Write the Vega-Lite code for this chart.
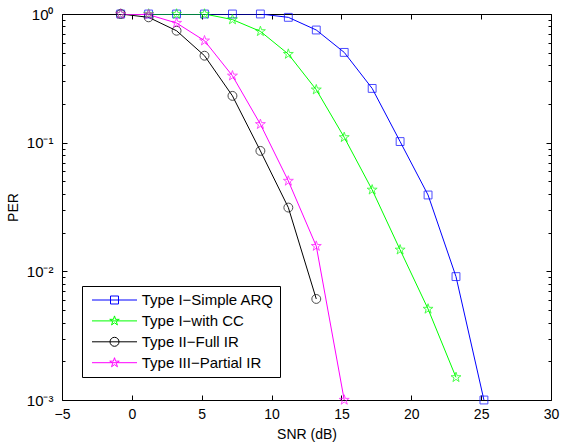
{
  "$schema": "https://vega.github.io/schema/vega-lite/v6.json",
  "width": 489,
  "height": 386,
  "autosize": {"type": "none"},
  "padding": {"left": 62, "top": 14, "right": 10, "bottom": 43},
  "config": {
    "view": {"stroke": "#000000", "strokeWidth": 1},
    "font": "Liberation Sans",
    "axis": {"domain": false, "grid": false, "tickColor": "#000000", "tickWidth": 1, "labelColor": "#000000", "titleColor": "#000000", "labelFont": "Liberation Sans", "titleFont": "Liberation Sans", "titleFontWeight": "normal"},
    "legend": {
      "orient": "none", "legendX": 20, "legendY": 272, "title": null,
      "padding": 6, "strokeColor": "#000000", "fillColor": "#ffffff", "cornerRadius": 0,
      "symbolSize": 225, "symbolStrokeWidth": 1, "rowPadding": 4.9,
      "symbolOffset": 18.5, "labelOffset": 19.2, "labelFont": "Liberation Sans", "labelFontSize": 15, "labelColor": "#000000", "labelLimit": 300
    }
  },
  "data": {
    "values": [
      {"snr": -0.8, "per": 1, "series": "Type I−Simple ARQ"},
      {"snr": 1.2, "per": 1, "series": "Type I−Simple ARQ"},
      {"snr": 3.2, "per": 1, "series": "Type I−Simple ARQ"},
      {"snr": 5.2, "per": 1, "series": "Type I−Simple ARQ"},
      {"snr": 7.2, "per": 1, "series": "Type I−Simple ARQ"},
      {"snr": 9.2, "per": 1, "series": "Type I−Simple ARQ"},
      {"snr": 11.2, "per": 0.942, "series": "Type I−Simple ARQ"},
      {"snr": 13.2, "per": 0.751, "series": "Type I−Simple ARQ"},
      {"snr": 15.2, "per": 0.503, "series": "Type I−Simple ARQ"},
      {"snr": 17.2, "per": 0.264, "series": "Type I−Simple ARQ"},
      {"snr": 19.2, "per": 0.102, "series": "Type I−Simple ARQ"},
      {"snr": 21.2, "per": 0.0392, "series": "Type I−Simple ARQ"},
      {"snr": 23.2, "per": 0.0091, "series": "Type I−Simple ARQ"},
      {"snr": 25.2, "per": 0.001, "series": "Type I−Simple ARQ"},
      {"snr": -0.8, "per": 1, "series": "Type I−with CC"},
      {"snr": 1.2, "per": 1, "series": "Type I−with CC"},
      {"snr": 3.2, "per": 1, "series": "Type I−with CC"},
      {"snr": 5.2, "per": 1, "series": "Type I−with CC"},
      {"snr": 7.2, "per": 0.905, "series": "Type I−with CC"},
      {"snr": 9.2, "per": 0.733, "series": "Type I−with CC"},
      {"snr": 11.2, "per": 0.488, "series": "Type I−with CC"},
      {"snr": 13.2, "per": 0.258, "series": "Type I−with CC"},
      {"snr": 15.2, "per": 0.11, "series": "Type I−with CC"},
      {"snr": 17.2, "per": 0.043, "series": "Type I−with CC"},
      {"snr": 19.2, "per": 0.0147, "series": "Type I−with CC"},
      {"snr": 21.2, "per": 0.0051, "series": "Type I−with CC"},
      {"snr": 23.2, "per": 0.0015, "series": "Type I−with CC"},
      {"snr": -0.8, "per": 1, "series": "Type II−Full IR"},
      {"snr": 1.2, "per": 0.942, "series": "Type II−Full IR"},
      {"snr": 3.2, "per": 0.741, "series": "Type II−Full IR"},
      {"snr": 5.2, "per": 0.474, "series": "Type II−Full IR"},
      {"snr": 7.2, "per": 0.231, "series": "Type II−Full IR"},
      {"snr": 9.2, "per": 0.0863, "series": "Type II−Full IR"},
      {"snr": 11.2, "per": 0.0313, "series": "Type II−Full IR"},
      {"snr": 13.2, "per": 0.0061, "series": "Type II−Full IR"},
      {"snr": -0.8, "per": 1, "series": "Type III−Partial IR"},
      {"snr": 1.2, "per": 0.988, "series": "Type III−Partial IR"},
      {"snr": 3.2, "per": 0.851, "series": "Type III−Partial IR"},
      {"snr": 5.2, "per": 0.62, "series": "Type III−Partial IR"},
      {"snr": 7.2, "per": 0.331, "series": "Type III−Partial IR"},
      {"snr": 9.2, "per": 0.139, "series": "Type III−Partial IR"},
      {"snr": 11.2, "per": 0.0504, "series": "Type III−Partial IR"},
      {"snr": 13.2, "per": 0.0157, "series": "Type III−Partial IR"},
      {"snr": 15.2, "per": 0.001, "series": "Type III−Partial IR"}
    ]
  },
  "layer": [
    {
      "mark": {"type": "line", "strokeWidth": 1, "clip": true},
      "encoding": {
        "x": {"field": "snr", "type": "quantitative", "scale": {"domain": [-5, 30], "nice": false, "zero": false},
          "axis": {"orient": "bottom", "values": [-5, 0, 5, 10, 15, 20, 25, 30], "tickSize": -5, "labelPadding": 12, "labelFontSize": 14, "labelExpr": "replace(datum.label, '-', '−')", "title": "SNR (dB)", "titleFontSize": 14, "titlePadding": 6, "labelFlush": false}},
        "y": {"field": "per", "type": "quantitative", "scale": {"type": "log", "domain": [0.001, 1], "nice": false},
          "axis": {"orient": "left", "values": [0.001, 0.01, 0.1, 1], "tickSize": -5, "labelPadding": 14, "labelFontSize": 15, "labelExpr": "datum.value >= 0.99 ? '10⁰' : datum.value >= 0.099 ? '10⁻¹' : datum.value >= 0.0099 ? '10⁻²' : '10⁻³'", "title": "PER", "titleFontSize": 14, "titlePadding": 6}},
        "color": {"field": "series", "type": "nominal",
          "scale": {"domain": ["Type I−Simple ARQ", "Type I−with CC", "Type II−Full IR", "Type III−Partial IR"], "range": ["#0000ff", "#00ff00", "#000000", "#ff00ff"]},
          "legend": {
            "encode": {"symbols": {"update": {"shape": {"signal": "datum.value === 'Type I−Simple ARQ' ? 'M-3,0L3,0M-0.533,-0.533L0.533,-0.533L0.533,0.533L-0.533,0.533Z' : datum.value === 'Type II−Full IR' ? 'M-3,0L3,0M0.6,0A0.6,0.6,0,1,1,-0.6,0A0.6,0.6,0,1,1,0.6,0Z' : 'M-3,0L3,0M0,-0.667L0.1497,-0.206L0.6343,-0.206L0.2423,0.0787L0.392,0.5396L0,0.2548L-0.392,0.5396L-0.2423,0.0787L-0.6343,-0.206L-0.1497,-0.206Z'"}, "fill": {"value": "transparent"}}}}
          }}
      }
    },
    {
      "mark": {"type": "point", "opacity": 0},
      "encoding": {
        "x": {"field": "snr", "type": "quantitative",
          "axis": {"orient": "top", "values": [-5, 0, 5, 10, 15, 20, 25, 30], "tickSize": -5, "labels": false, "title": null}},
        "y": {"field": "per", "type": "quantitative",
          "axis": {"orient": "right", "values": [0.001, 0.01, 0.1, 1], "tickSize": -5, "labels": false, "title": null}}
      }
    },
    {
      "mark": {"type": "point", "opacity": 0},
      "encoding": {
        "x": {"field": "snr", "type": "quantitative", "axis": null},
        "y": {"field": "per", "type": "quantitative",
          "axis": {"orient": "left", "values": [0.002, 0.003, 0.004, 0.005, 0.006, 0.007, 0.008, 0.009, 0.02, 0.03, 0.04, 0.05, 0.06, 0.07, 0.08, 0.09, 0.2, 0.3, 0.4, 0.5, 0.6, 0.7, 0.8, 0.9], "tickSize": -3, "labels": false, "title": null}}
      }
    },
    {
      "mark": {"type": "point", "opacity": 0},
      "encoding": {
        "x": {"field": "snr", "type": "quantitative", "axis": null},
        "y": {"field": "per", "type": "quantitative",
          "axis": {"orient": "right", "values": [0.002, 0.003, 0.004, 0.005, 0.006, 0.007, 0.008, 0.009, 0.02, 0.03, 0.04, 0.05, 0.06, 0.07, 0.08, 0.09, 0.2, 0.3, 0.4, 0.5, 0.6, 0.7, 0.8, 0.9], "tickSize": -3, "labels": false, "title": null}}
      }
    },
    {
      "transform": [{"filter": "datum.series === 'Type I−Simple ARQ'"}],
      "mark": {"type": "point", "filled": false, "strokeWidth": 1, "color": "#0000ff", "size": 110, "shape": "M-0.75,-0.75L0.75,-0.75L0.75,0.75L-0.75,0.75Z"},
      "encoding": {
        "x": {"field": "snr", "type": "quantitative", "axis": null},
        "y": {"field": "per", "type": "quantitative", "axis": null}
      }
    },
    {
      "transform": [{"filter": "datum.series === 'Type I−with CC'"}],
      "mark": {"type": "point", "filled": false, "strokeWidth": 1, "color": "#00ff00", "size": 110, "shape": "M0,-1L0.2245,-0.309L0.9511,-0.309L0.3633,0.118L0.5878,0.809L0,0.382L-0.5878,0.809L-0.3633,0.118L-0.9511,-0.309L-0.2245,-0.309Z"},
      "encoding": {
        "x": {"field": "snr", "type": "quantitative", "axis": null},
        "y": {"field": "per", "type": "quantitative", "axis": null}
      }
    },
    {
      "transform": [{"filter": "datum.series === 'Type II−Full IR'"}],
      "mark": {"type": "point", "filled": false, "strokeWidth": 1, "color": "#000000", "size": 110, "shape": "M0.85,0A0.85,0.85,0,1,1,-0.85,0A0.85,0.85,0,1,1,0.85,0Z"},
      "encoding": {
        "x": {"field": "snr", "type": "quantitative", "axis": null},
        "y": {"field": "per", "type": "quantitative", "axis": null}
      }
    },
    {
      "transform": [{"filter": "datum.series === 'Type III−Partial IR'"}],
      "mark": {"type": "point", "filled": false, "strokeWidth": 1, "color": "#ff00ff", "size": 110, "shape": "M0,-1L0.2245,-0.309L0.9511,-0.309L0.3633,0.118L0.5878,0.809L0,0.382L-0.5878,0.809L-0.3633,0.118L-0.9511,-0.309L-0.2245,-0.309Z"},
      "encoding": {
        "x": {"field": "snr", "type": "quantitative", "axis": null},
        "y": {"field": "per", "type": "quantitative", "axis": null}
      }
    }
  ],
  "resolve": {"axis": {"x": "independent", "y": "independent"}}
}
